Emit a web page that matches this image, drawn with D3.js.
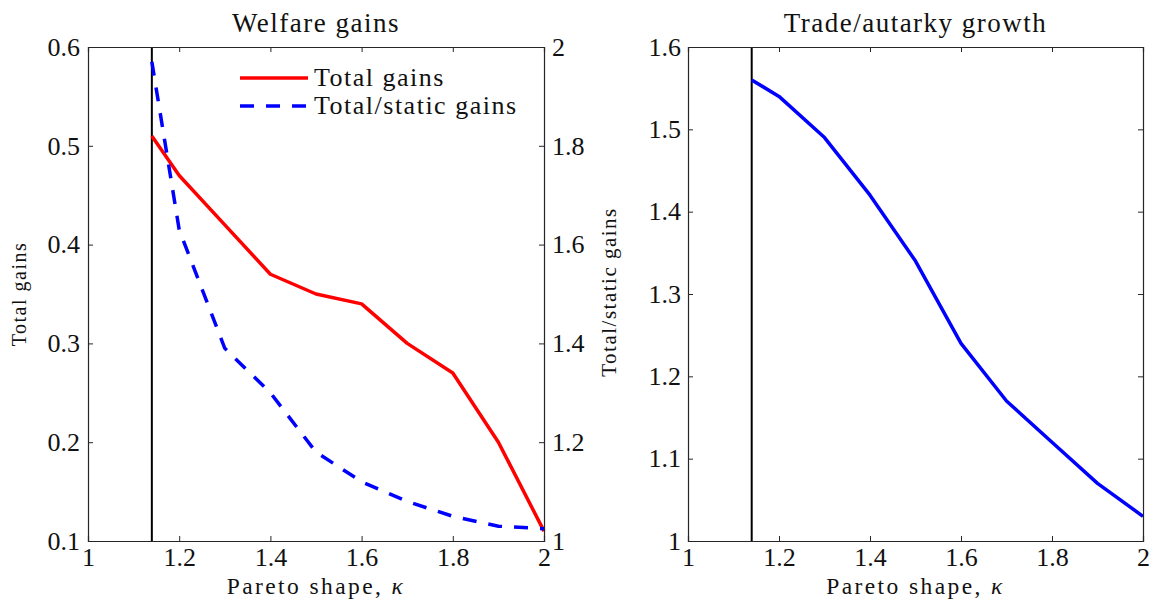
<!DOCTYPE html>
<html>
<head>
<meta charset="utf-8">
<script src="https://cdn.jsdelivr.net/npm/d3@7"></script>
<style>
  html, body { margin: 0; padding: 0; background: #fff; }
  svg text { font-family: "Liberation Serif", "DejaVu Serif", serif; fill: #111; }
  .word { letter-spacing: 1.5px; }
  .xlab { letter-spacing: 2.4px; }
</style>
</head>
<body>
<svg id="chart" width="1149" height="599"></svg>
<script>
// Pareto shape grid and model outputs
const kappa        = [1.14, 1.2, 1.3, 1.4, 1.5, 1.6, 1.7, 1.8, 1.9, 2.0];
const totalGains   = [0.51, 0.47, 0.42, 0.37, 0.35, 0.34, 0.30, 0.27, 0.20, 0.11];
const totalStatic  = [1.97, 1.63, 1.39, 1.30, 1.18, 1.12, 1.08, 1.05, 1.03, 1.025];
const tradeAutarky = [1.56, 1.54, 1.49, 1.42, 1.34, 1.24, 1.17, 1.12, 1.07, 1.03];
const kappaMin = 1.14;

const xTicks      = [1, 1.2, 1.4, 1.6, 1.8, 2];
const gainsTicks  = [0.1, 0.2, 0.3, 0.4, 0.5, 0.6];
const ratioTicks  = [1, 1.2, 1.4, 1.6, 1.8, 2];
const growthTicks = [1, 1.1, 1.2, 1.3, 1.4, 1.5, 1.6];

const svg = d3.select("#chart");
const axisColor = "#262626";
const tickFont = 26;
const tickLen = 5;
const dash = "14,12";

const plotTop = 47, plotBottom = 541;
const p1 = { left: 88, right: 544 };
const p2 = { left: 688, right: 1143 };

const fmt = d => String(+d.toFixed(2));

function frame(g, x, y, yRight, padLeft) {
  // x axes
  g.append("g").attr("transform", `translate(0,${plotBottom})`)
    .call(d3.axisBottom(x).tickValues(xTicks).tickFormat(fmt).tickSize(-tickLen).tickPadding(7));
  g.append("g").attr("transform", `translate(0,${plotTop})`)
    .call(d3.axisTop(x).tickValues(xTicks).tickFormat("").tickSize(-tickLen));
  // y axes
  g.append("g").attr("transform", `translate(${x.range()[0]},0)`)
    .call(d3.axisLeft(y.scale).tickValues(y.ticks).tickFormat(fmt).tickSize(-tickLen).tickPadding(padLeft));
  g.append("g").attr("transform", `translate(${x.range()[1]},0)`)
    .call(d3.axisRight(yRight.scale).tickValues(yRight.ticks)
      .tickFormat(yRight.labels ? fmt : "").tickSize(-tickLen).tickPadding(8));
  g.selectAll(".domain").attr("stroke", axisColor).attr("stroke-width", 1.2);
  g.selectAll(".tick line").attr("stroke", axisColor).attr("stroke-width", 1);
  g.selectAll(".tick text").attr("font-size", tickFont)
    .attr("font-family", "'Liberation Serif', serif").attr("fill", "#111");
}

function xLabel(cx) {
  const t = svg.append("text").attr("class", "xlab").attr("x", cx).attr("y", 594)
    .attr("text-anchor", "middle").attr("font-size", 23.5);
  t.append("tspan").text("Pareto shape, ");
  t.append("tspan").attr("font-style", "italic").text("κ");
}

function title(cx, s) {
  svg.append("text").attr("class", "word").attr("x", cx).attr("y", 32).attr("text-anchor", "middle")
    .attr("font-size", 27).text(s);
}

// ---------- Left panel: welfare gains ----------
const x1 = d3.scaleLinear().domain([1, 2]).range([p1.left, p1.right]);
const yGains = d3.scaleLinear().domain([0.1, 0.6]).range([plotBottom, plotTop]);
const yRatio = d3.scaleLinear().domain([1, 2]).range([plotBottom, plotTop]);

const g1 = svg.append("g");
g1.append("line")
  .attr("x1", x1(kappaMin)).attr("x2", x1(kappaMin))
  .attr("y1", plotBottom).attr("y2", plotTop)
  .attr("stroke", "#000").attr("stroke-width", 2);

g1.append("path").datum(kappa.map((k, i) => [k, totalGains[i]]))
  .attr("fill", "none").attr("stroke", "#ff0000").attr("stroke-width", 3.5)
  .attr("stroke-linejoin", "round")
  .attr("d", d3.line().x(d => x1(d[0])).y(d => yGains(d[1])));

g1.append("path").datum(kappa.map((k, i) => [k, totalStatic[i]]))
  .attr("fill", "none").attr("stroke", "#0000ff").attr("stroke-width", 3.5)
  .attr("stroke-dasharray", dash)
  .attr("d", d3.line().x(d => x1(d[0])).y(d => yRatio(d[1])));

frame(g1, x1, { scale: yGains, ticks: gainsTicks }, { scale: yRatio, ticks: ratioTicks, labels: true }, 8);

// legend
const legend = svg.append("g");
legend.append("line").attr("x1", 240).attr("x2", 308).attr("y1", 78).attr("y2", 78)
  .attr("stroke", "#ff0000").attr("stroke-width", 3.5);
legend.append("text").attr("class", "word").attr("x", 314).attr("y", 86).attr("font-size", 26).text("Total gains");
legend.append("line").attr("x1", 240).attr("x2", 308).attr("y1", 106).attr("y2", 106)
  .attr("stroke", "#0000ff").attr("stroke-width", 3.5).attr("stroke-dasharray", dash);
legend.append("text").attr("class", "word").attr("x", 314).attr("y", 114).attr("font-size", 26).text("Total/static gains");

title((p1.left + p1.right) / 2, "Welfare gains");
xLabel((p1.left + p1.right) / 2);
svg.append("text").attr("class", "word")
  .attr("transform", `translate(26,${(plotTop + plotBottom) / 2}) rotate(-90)`)
  .attr("text-anchor", "middle").attr("font-size", 20).text("Total gains");
svg.append("text").attr("class", "word")
  .attr("transform", `translate(616,${(plotTop + plotBottom) / 2 - 2}) rotate(-90)`)
  .attr("text-anchor", "middle").attr("font-size", 21).text("Total/static gains");

// ---------- Right panel: trade/autarky growth ----------
const x2 = d3.scaleLinear().domain([1, 2]).range([p2.left, p2.right]);
const yGrowth = d3.scaleLinear().domain([1, 1.6]).range([plotBottom, plotTop]);

const g2 = svg.append("g");
g2.append("line")
  .attr("x1", x2(kappaMin)).attr("x2", x2(kappaMin))
  .attr("y1", plotBottom).attr("y2", plotTop)
  .attr("stroke", "#000").attr("stroke-width", 2);

g2.append("path").datum(kappa.map((k, i) => [k, tradeAutarky[i]]))
  .attr("fill", "none").attr("stroke", "#0000ff").attr("stroke-width", 3.5)
  .attr("stroke-linejoin", "round")
  .attr("d", d3.line().x(d => x2(d[0])).y(d => yGrowth(d[1])));

frame(g2, x2, { scale: yGrowth, ticks: growthTicks }, { scale: yGrowth, ticks: growthTicks, labels: false }, 7);

title((p2.left + p2.right) / 2, "Trade/autarky growth");
xLabel((p2.left + p2.right) / 2);
</script>
</body>
</html>
